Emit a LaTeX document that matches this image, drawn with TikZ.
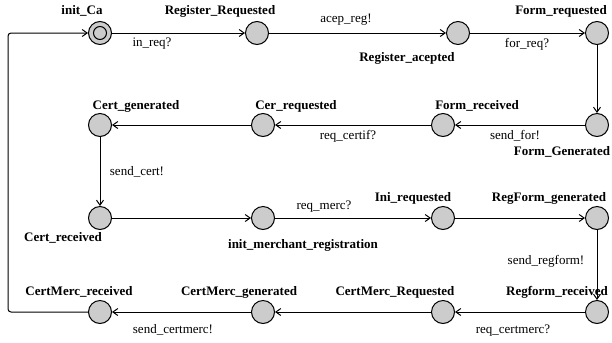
\documentclass[tikz,border=0pt]{standalone}
\usepackage{fontspec}
\setmainfont{Liberation Serif}
\usetikzlibrary{arrows.meta}

\begin{document}
\begin{tikzpicture}
[x=1bp, y=-1bp,
every node/.style={font=\fontsize{13bp}{15bp}\selectfont, inner sep=0pt},
loc/.style={circle, draw=black, line width=1bp, fill=gray!40,
minimum size=23bp},
initloc/.style={loc, path picture={\draw[line width=1bp]
(path picture bounding box.center) circle (6.5bp);}},
locname/.style={font=\fontsize{13bp}{15bp}\selectfont\bfseries},
trans/.style={line width=1bp, -{Straight Barb[length=5bp, width=7bp]}}]

\useasboundingbox (0,0) rectangle (612,342);

% Draw locations
\node [initloc] (initca) at (100,33) {};
\node [loc] (regreq) at (257,33) {};
\node [loc] (regacep) at (458,33) {};
\node [loc] (formreq) at (597,33) {};
\node [loc] (certgen) at (100,125) {};
\node [loc] (cerreq) at (263,125) {};
\node [loc] (formrec) at (443,125) {};
\node [loc] (formgen) at (597,125) {};
\node [loc] (certrec) at (100,218) {};
\node [loc] (initmerc) at (263,218) {};
\node [loc] (inireq) at (443,218) {};
\node [loc] (regformgen) at (597,218) {};
\node [loc] (certmercrec) at (100,312) {};
\node [loc] (certmercgen) at (263,312) {};
\node [loc] (certmercreq) at (443,312) {};
\node [loc] (regformrec) at (597,312) {};

% Location names
\node [locname] at (82,11) {init\_Ca};
\node [locname] at (220,11) {Register\_Requested};
\node [locname] at (407,58) {Register\_acepted};
\node [locname] at (561,11) {Form\_requested};
\node [locname] at (136,106) {Cert\_generated};
\node [locname] at (296,106) {Cer\_requested};
\node [locname] at (477,106) {Form\_received};
\node [locname] at (562,152) {Form\_Generated};
\node [locname] at (63,238) {Cert\_received};
\node [locname] at (303,245) {init\_merchant\_registration};
\node [locname] at (413,198) {Ini\_requested};
\node [locname] at (549,198) {RegForm\_generated};
\node [locname] at (79,292) {CertMerc\_received};
\node [locname] at (239,292) {CertMerc\_generated};
\node [locname] at (395,292) {CertMerc\_Requested};
\node [locname] at (557,292) {Regform\_received};

% Transitions
\path[trans]
(initca) edge (regreq)
(regreq) edge (regacep)
(regacep) edge (formreq)
(formreq) edge (formgen)
(formgen) edge (formrec)
(formrec) edge (cerreq)
(cerreq) edge (certgen)
(certgen) edge (certrec)
(certrec) edge (initmerc)
(initmerc) edge (inireq)
(inireq) edge (regformgen)
(regformgen) edge (regformrec)
(regformrec) edge (certmercreq)
(certmercreq) edge (certmercgen)
(certmercgen) edge (certmercrec);
\draw[trans, rounded corners=3bp] (certmercrec.west) -- (8,312) -- (8,33)
-- (initca.west);

% Synchronisation labels
\node at (152,44) {in\_req?};
\node at (346,20) {acep\_reg!};
\node at (527,44) {for\_req?};
\node at (515,136) {send\_for!};
\node at (348,136) {req\_certif?};
\node at (137,172) {send\_cert!};
\node at (324,207) {req\_merc?};
\node at (546,261) {send\_regform!};
\node at (513,331) {req\_certmerc?};
\node at (173,330) {send\_certmerc!};

\end{tikzpicture}
\end{document}
